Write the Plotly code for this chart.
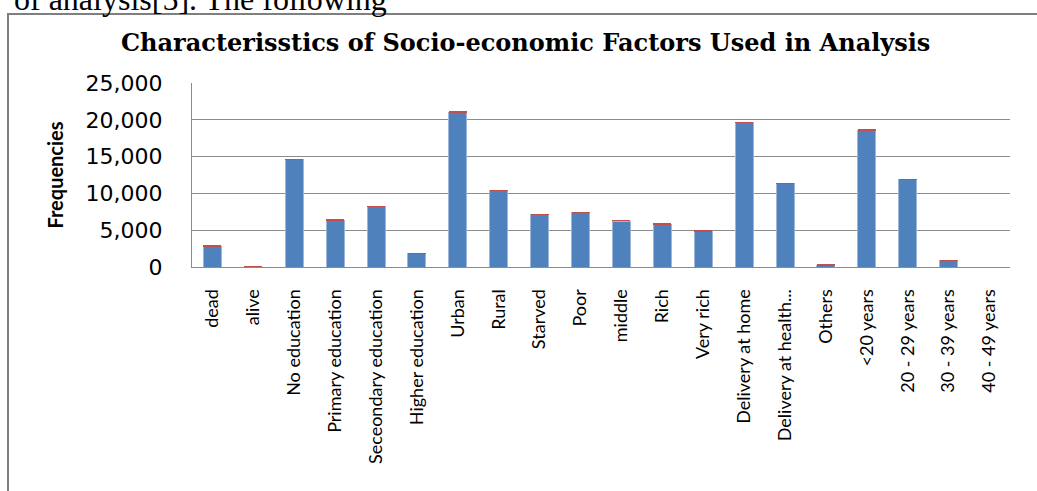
import plotly.graph_objects as go

categories = ["dead", "alive", "No education", "Primary education", "Seceondary education",
              "Higher education", "Urban", "Rural", "Starved", "Poor", "middle", "Rich",
              "Very rich", "Delivery at home", "Delivery at health...", "Others", "<20 years",
              "20 - 29 years", "30 - 39 years", "40 - 49 years"]
frequencies = [2850, 0, 14600, 6350, 8200, 1800, 21000, 10350, 7100, 7380, 6250, 5800,
               4850, 19600, 11300, 250, 18580, 11880, 850, 0]
top_series = [70, 70, 70, 70, 70, 70, 70, 70, 70, 70, 70, 70,
              70, 70, 70, 70, 70, 70, 70, 0]

W, H = 1037, 491
ML, MR, MT, MB = 192, 27, 83, 224
PW, PH = W - ML - MR, H - MT - MB

def px_x(px):
    return (px - ML) / PW

def px_y(py):
    return 1 - (py - MT) / PH

fig = go.Figure()
fig.add_trace(go.Bar(x=categories, y=frequencies, marker=dict(color="#4F81BD",
                     line=dict(color="#9DB6DA", width=1)), width=0.44, name="Frequencies"))
fig.add_trace(go.Bar(x=categories, y=top_series, marker=dict(color="#C0504D", line=dict(width=0)),
                     width=0.44, name="Series2"))

fig.update_layout(
    width=W, height=H, barmode="stack", showlegend=False,
    margin=dict(l=ML, r=MR, t=MT, b=MB, autoexpand=False),
    paper_bgcolor="white", plot_bgcolor="white",
    font=dict(family="Lato", color="black"),
)
fig.update_yaxes(range=[0, 25000], dtick=5000, tickformat=",", showgrid=True,
                 gridcolor="#8c8c8c", gridwidth=1, showline=True, linecolor="#8c8c8c",
                 ticks="", tickfont=dict(size=22, family="DejaVu Sans"), ticklabelstandoff=24,
                 title=dict(text="<b>Frequencies</b>", font=dict(size=20, family="Lato"), standoff=16))
fig.update_xaxes(showline=True, linecolor="#8c8c8c", tickangle=-90,
                 tickfont=dict(size=18, family="Lato"), ticks="", ticklabelstandoff=14)

fig.add_annotation(text="<b>Characterisstics of Socio-economic Factors Used in Analysis</b>",
                   xref="paper", yref="paper", x=px_x(525), y=px_y(42), xanchor="center",
                   yanchor="middle", showarrow=False,
                   font=dict(family="DejaVu Serif", size=24, color="black"))
fig.add_annotation(text="of analysis[5]. The following", xref="paper", yref="paper",
                   x=px_x(12), y=px_y(-1), xanchor="left", yanchor="middle", showarrow=False,
                   font=dict(family="Liberation Serif", size=32, color="black"))
fig.add_shape(type="rect", xref="paper", yref="paper", x0=px_x(8), x1=px_x(1045),
              y0=px_y(14), y1=px_y(510), line=dict(color="#7f7f7f", width=2),
              fillcolor="rgba(0,0,0,0)", layer="below")

fig.write_html("out.html", config={"displayModeBar": False},
               post_script="document.body.style.margin='0';")
